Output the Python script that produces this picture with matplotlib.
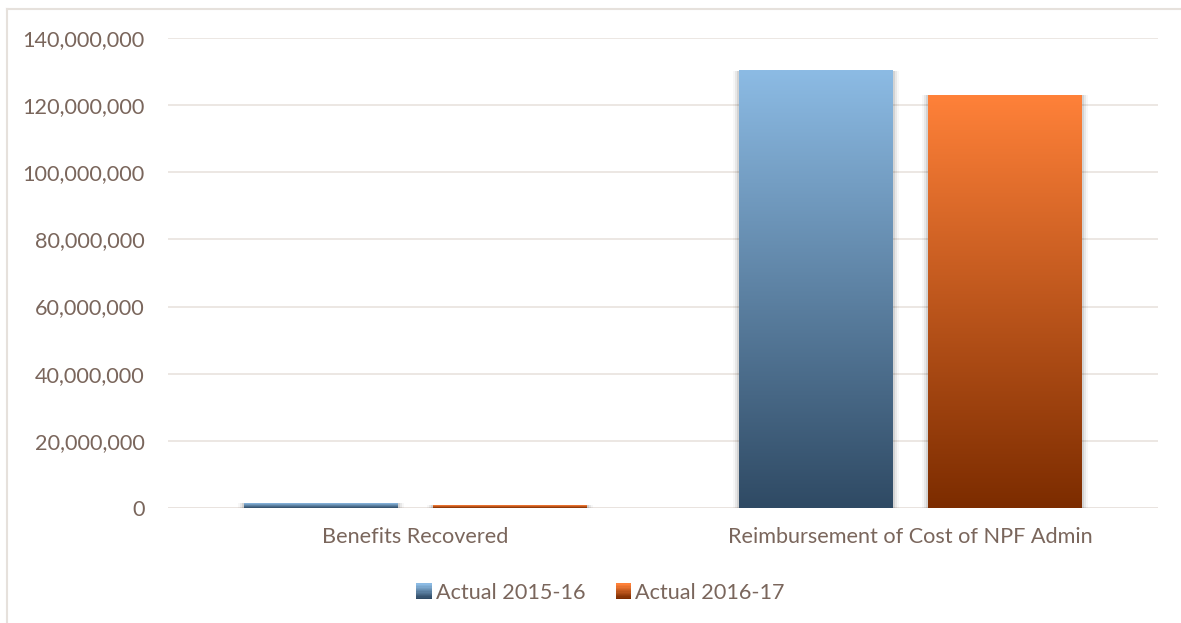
import numpy as np
import matplotlib.pyplot as plt
from matplotlib.colors import LinearSegmentedColormap
from matplotlib.patches import Rectangle
from matplotlib.lines import Line2D
from matplotlib.legend_handler import HandlerBase
from matplotlib.ticker import FuncFormatter

plt.rcParams['font.family'] = ['Lato', 'DejaVu Sans']

categories = ["Benefits Recovered", "Reimbursement of Cost of NPF Admin"]
series_names = ["Actual 2015-16", "Actual 2016-17"]
actual_2015_16 = [1350000, 130200000]
actual_2016_17 = [750000, 123000000]
yticks = [0, 20000000, 40000000, 60000000, 80000000, 100000000, 120000000, 140000000]

text_col = "#7a665c"
grid_col = "#ebe5e1"
fs = 15.6
# (top, bottom) colours of each series gradient
grads = [("#8cbbe4", "#2f4a64"), ("#ff8139", "#7c2c00")]

fig = plt.figure(figsize=(11.81, 6.23), dpi=100)
W, H = 1181, 623
ax = fig.add_axes([168 / W, 1 - 508 / H, 990 / W, 470 / H])

x = np.arange(len(categories))
width = 0.311
offset = 0.191
grad = np.linspace(1, 0, 256).reshape(-1, 1)

for vals, off, (top, bot) in zip([actual_2015_16, actual_2016_17], [-offset, offset], grads):
    cmap = LinearSegmentedColormap.from_list("g", [bot, top])
    for xi, v in zip(x, vals):
        x0 = xi + off - width / 2
        # soft shadow under the bar
        for k, a in enumerate([0.09, 0.06, 0.03]):
            d = (k + 1) * 0.004
            ax.add_patch(Rectangle((x0 - d, -(k + 1) * 250000), width + 2 * d, v + (k + 1) * 250000,
                                   facecolor="#000000", alpha=a, edgecolor="none", zorder=2))
        ax.imshow(grad, cmap=cmap, aspect="auto", extent=(x0, x0 + width, 0, v),
                  zorder=3, interpolation="bilinear")

ax.set_xlim(-0.5, 1.5)
ax.set_ylim(0, 140000000)
ax.set_yticks(yticks)
ax.yaxis.set_major_formatter(FuncFormatter(lambda v, p: "{:,.0f}".format(v)))
ax.set_xticks(x)
ax.set_xticklabels(categories)
ax.grid(axis="y", color=grid_col, linewidth=1.3, zorder=0)
ax.axhline(0, color="#d9d4d0", linewidth=1.3, zorder=1)
ax.tick_params(axis="both", length=0, labelsize=fs, labelcolor=text_col)
ax.tick_params(axis="y", pad=17)
ax.tick_params(axis="x", pad=14)
for s in ax.spines.values():
    s.set_visible(False)


class GradHandler(HandlerBase):
    def __init__(self, top, bot):
        super().__init__()
        self.cmap = LinearSegmentedColormap.from_list("g", [bot, top])

    def create_artists(self, legend, orig, xd, yd, w, h, fontsize, trans):
        n = 12
        size = h * 1.0
        x0 = xd + w - size
        y0 = yd + (h - size) / 2
        arts = []
        for i in range(n):
            r = Rectangle((x0, y0 + i * size / n), size, size / n + 0.3,
                          facecolor=self.cmap(i / (n - 1)), edgecolor="none", transform=trans)
            arts.append(r)
        return arts


h1 = Rectangle((0, 0), 1, 1)
h2 = Rectangle((0, 0), 1, 1)
fig.legend([h1, h2], series_names, loc="center", bbox_to_anchor=(0.5 + 9 / W, 1 - 593 / H), ncol=2,
           frameon=False, fontsize=fs, labelcolor=text_col, handlelength=0.8, handletextpad=0.2,
           columnspacing=1.3,
           handler_map={h1: GradHandler(*grads[0]), h2: GradHandler(*grads[1])})

# outer chart border
fig.add_artist(Line2D([6.5 / W, 6.5 / W], [0, 1 - 8.5 / H], color="#e6e1dc", linewidth=1.5))
fig.add_artist(Line2D([6.5 / W, 1], [1 - 8.5 / H, 1 - 8.5 / H], color="#e6e1dc", linewidth=1.5))

fig.savefig("out.png", dpi=100)
